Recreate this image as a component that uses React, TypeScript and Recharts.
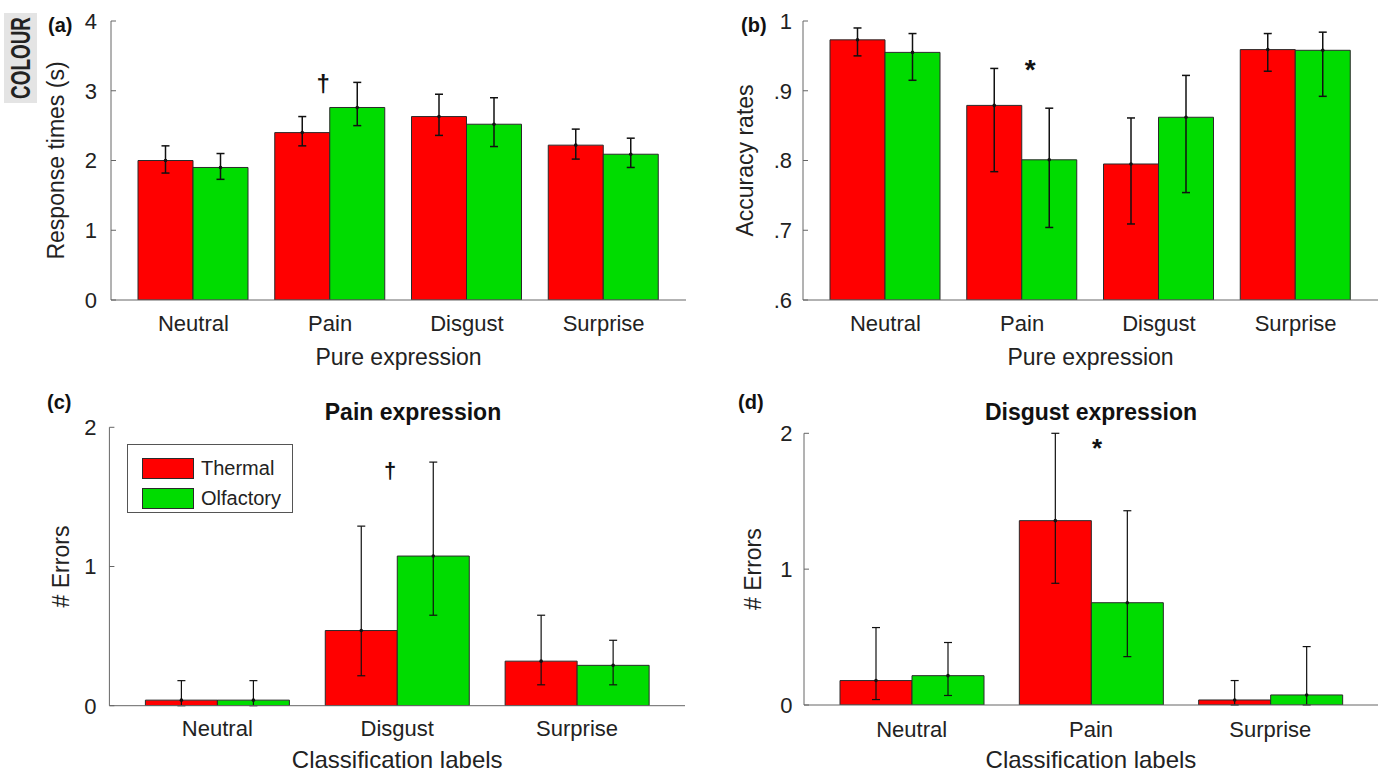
import React from 'react'
import { BarChart, Bar, XAxis, YAxis, ErrorBar, Legend, ReferenceDot } from 'recharts'

const RED = '#ff0000'
const GREEN = '#00dc00'
const EDGE = '#2a2a2a'
const AXIS = '#666'
const INK = '#222'
const FONT = "'Liberation Sans', Arial, sans-serif"

// (a) response times, (b) accuracy — pure expressions
const pureCats = ['Neutral', 'Pain', 'Disgust', 'Surprise']
const rtThermal = [2.0, 2.4, 2.63, 2.22]
const rtThermalLo = [1.82, 2.21, 2.36, 2.02]
const rtThermalHi = [2.21, 2.63, 2.95, 2.45]
const rtOlf = [1.9, 2.76, 2.52, 2.09]
const rtOlfLo = [1.73, 2.5, 2.2, 1.9]
const rtOlfHi = [2.1, 3.12, 2.9, 2.32]
const rtTicks = [0, 1, 2, 3, 4]

const accThermal = [0.973, 0.879, 0.795, 0.959]
const accThermalLo = [0.95, 0.784, 0.709, 0.928]
const accThermalHi = [0.99, 0.932, 0.861, 0.982]
const accOlf = [0.955, 0.801, 0.862, 0.958]
const accOlfLo = [0.915, 0.704, 0.754, 0.892]
const accOlfHi = [0.982, 0.875, 0.922, 0.984]
const accTicks = [0.6, 0.7, 0.8, 0.9, 1]

// (c) errors for pain expression, (d) errors for disgust expression
const painCats = ['Neutral', 'Disgust', 'Surprise']
const painThermal = [0.04, 0.54, 0.32]
const painThermalLo = [0, 0.215, 0.15]
const painThermalHi = [0.18, 1.29, 0.65]
const painOlf = [0.04, 1.075, 0.29]
const painOlfLo = [0, 0.65, 0.15]
const painOlfHi = [0.18, 1.75, 0.47]

const disgCats = ['Neutral', 'Pain', 'Surprise']
const disgThermal = [0.18, 1.357, 0.037]
const disgThermalLo = [0.04, 0.896, 0]
const disgThermalHi = [0.57, 2.0, 0.18]
const disgOlf = [0.216, 0.753, 0.074]
const disgOlfLo = [0.07, 0.356, 0]
const disgOlfHi = [0.46, 1.43, 0.43]
const errTicks = [0, 1, 2]

const seriesNames = ['Thermal', 'Olfactory']

function buildRows(cats: string[], t: number[], tLo: number[], tHi: number[], o: number[], oLo: number[], oHi: number[]) {
  return cats.map((name, i) => ({
    name,
    thermal: t[i],
    olfactory: o[i],
    thermalErr: [t[i] - tLo[i], tHi[i] - t[i]],
    olfactoryErr: [o[i] - oLo[i], oHi[i] - o[i]],
  }))
}

const accFmt = (v: number) => (v === 1 ? '1' : String(v).replace(/^0/, ''))

function MarkLabel(props: any) {
  const { viewBox, text, dx, size } = props
  if (!viewBox) return null
  return (
    <text x={viewBox.x + dx} y={viewBox.y} textAnchor="middle" fontSize={size} fontWeight="bold" fontFamily={FONT} fill="#111">
      {text}
    </text>
  )
}

// small dot at the mean, like the original error bars
function MeanDot(props: any) {
  const { x, y, width } = props
  if (x == null || y == null) return null
  return <circle cx={x + width / 2} cy={y} r={1.8} fill="#111" />
}

function LegendBox(props: any) {
  const items = [...(props.payload || [])].sort(
    (a: any, b: any) => seriesNames.indexOf(a.value) - seriesNames.indexOf(b.value)
  )
  return (
    <div
      style={{
        border: '1px solid #555', background: '#fff', width: 166, height: 69, boxSizing: 'border-box',
        padding: '9px 0 0 14px', fontFamily: FONT,
      }}
    >
      {items.map((item: any) => (
        <div key={item.value} style={{ display: 'flex', alignItems: 'center', height: 29.5 }}>
          <div style={{ flexShrink: 0, width: 52, height: 21, boxSizing: 'border-box', background: item.color, border: `1px solid ${EDGE}`, marginRight: 7 }} />
          <span style={{ fontSize: 20, color: INK, whiteSpace: 'nowrap' }}>{item.value}</span>
        </div>
      ))}
    </div>
  )
}

interface PanelProps {
  left: number
  top: number
  width: number
  height: number
  data: any[]
  plotTop: number
  marginRight: number
  yAxisWidth: number
  xAxisHeight: number
  pad: number
  barSize: number
  domain: [number, number]
  ticks: number[]
  fmt?: (v: number) => string
  xTickMargin: number
  yTickMargin: number
  xLabel: string
  xLabelOffset: number
  xLabelFont: number
  yLabel: string
  yLabelOffset: number
  yLabelFont: number
  errWidth: number
  mark: { cat: string; value: number; text: string; dx: number; size: number }
  legend?: { x: number; y: number }
}

function Panel(p: PanelProps) {
  return (
    <div style={{ position: 'absolute', left: p.left, top: p.top, fontFamily: FONT }}>
      <BarChart
        width={p.width}
        height={p.height}
        data={p.data}
        margin={{ top: p.plotTop, right: p.marginRight, left: 0, bottom: 0 }}
        barGap={0}
        barSize={p.barSize}
      >
        <XAxis
          dataKey="name"
          height={p.xAxisHeight}
          padding={{ left: p.pad, right: p.pad }}
          axisLine={{ stroke: AXIS }}
          tickLine={false}
          tickSize={0}
          tickMargin={p.xTickMargin}
          interval={0}
          tick={{ fontSize: 22, fill: INK, fontFamily: FONT }}
          label={{ value: p.xLabel, position: 'insideBottom', offset: p.xLabelOffset, style: { fontSize: p.xLabelFont, fill: INK, fontFamily: FONT } }}
        />
        <YAxis
          width={p.yAxisWidth}
          domain={p.domain}
          ticks={p.ticks}
          allowDataOverflow
          tickFormatter={p.fmt}
          axisLine={{ stroke: AXIS }}
          tickLine={{ stroke: AXIS }}
          tickSize={-5}
          tickMargin={p.yTickMargin}
          tick={{ fontSize: 22, fill: INK, fontFamily: FONT }}
          label={{
            value: p.yLabel,
            angle: -90,
            position: 'insideLeft',
            offset: p.yLabelOffset,
            style: { textAnchor: 'middle', fontSize: p.yLabelFont, fill: INK, fontFamily: FONT },
          }}
        />
        <Bar dataKey="thermal" name="Thermal" fill={RED} stroke={EDGE} strokeWidth={1} isAnimationActive={false} label={<MeanDot />}>
          <ErrorBar dataKey="thermalErr" width={4} stroke="#111" strokeWidth={p.errWidth} isAnimationActive={false} />
        </Bar>
        <Bar dataKey="olfactory" name="Olfactory" fill={GREEN} stroke={EDGE} strokeWidth={1} isAnimationActive={false} label={<MeanDot />}>
          <ErrorBar dataKey="olfactoryErr" width={4} stroke="#111" strokeWidth={p.errWidth} isAnimationActive={false} />
        </Bar>
        {p.legend && (
          <Legend
            layout="vertical"
            align="center"
            verticalAlign="middle"
            wrapperStyle={{ left: p.legend.x, top: p.legend.y, width: 'auto' }}
            content={<LegendBox />}
          />
        )}
        <ReferenceDot
          x={p.mark.cat}
          y={p.mark.value}
          r={0}
          fill="none"
          stroke="none"
          label={<MarkLabel text={p.mark.text} dx={p.mark.dx} size={p.mark.size} />}
        />
      </BarChart>
    </div>
  )
}

export default function App() {
  const rtRows = buildRows(pureCats, rtThermal, rtThermalLo, rtThermalHi, rtOlf, rtOlfLo, rtOlfHi)
  const accRows = buildRows(pureCats, accThermal, accThermalLo, accThermalHi, accOlf, accOlfLo, accOlfHi)
  const painRows = buildRows(painCats, painThermal, painThermalLo, painThermalHi, painOlf, painOlfLo, painOlfHi)
  const disgRows = buildRows(disgCats, disgThermal, disgThermalLo, disgThermalHi, disgOlf, disgOlfLo, disgOlfHi)

  return (
    <div style={{ position: 'absolute', left: 0, top: 0, width: 1382, height: 772, background: '#fff', overflow: 'hidden' }}>
      <Panel
        left={0} top={0} width={700} height={385} data={rtRows}
        plotTop={21} marginRight={14} yAxisWidth={111} xAxisHeight={85} pad={14} barSize={55}
        domain={[0, 4]} ticks={rtTicks}
        xTickMargin={15} yTickMargin={19}
        xLabel="Pure expression" xLabelOffset={20} xLabelFont={23}
        yLabel="Response times (s)" yLabelOffset={56} yLabelFont={23}
        errWidth={1.5}
        mark={{ cat: 'Pain', value: 2.98, text: '†', dx: -7, size: 24 }}
      />
      <Panel
        left={690} top={0} width={692} height={385} data={accRows}
        plotTop={21} marginRight={4} yAxisWidth={113} xAxisHeight={85} pad={14} barSize={55}
        domain={[0.6, 1]} ticks={accTicks} fmt={accFmt}
        xTickMargin={15} yTickMargin={16}
        xLabel="Pure expression" xLabelOffset={20} xLabelFont={23}
        yLabel="Accuracy rates" yLabelOffset={55} yLabelFont={23}
        errWidth={1.5}
        mark={{ cat: 'Pain', value: 0.917, text: '*', dx: 8, size: 28 }}
      />
      <Panel
        left={0} top={390} width={700} height={382} data={painRows}
        plotTop={37.3} marginRight={15} yAxisWidth={109.4} xAxisHeight={66.3} pad={18} barSize={72}
        domain={[0, 2]} ticks={errTicks}
        xTickMargin={15} yTickMargin={18}
        xLabel="Classification labels" xLabelOffset={4} xLabelFont={24}
        yLabel="# Errors" yLabelOffset={61} yLabelFont={23}
        errWidth={1.2}
        mark={{ cat: 'Disgust', value: 1.636, text: '†', dx: -7, size: 22 }}
        legend={{ x: 127, y: 54 }}
      />
      <Panel
        left={690} top={390} width={692} height={382} data={disgRows}
        plotTop={43.3} marginRight={4} yAxisWidth={114} xAxisHeight={67} pad={18} barSize={72}
        domain={[0, 2]} ticks={errTicks}
        xTickMargin={16} yTickMargin={16.5}
        xLabel="Classification labels" xLabelOffset={4} xLabelFont={24}
        yLabel="# Errors" yLabelOffset={63} yLabelFont={23}
        errWidth={1.2}
        mark={{ cat: 'Pain', value: 1.826, text: '*', dx: 6, size: 26 }}
      />

      <svg width={1382} height={772} style={{ position: 'absolute', left: 0, top: 0, pointerEvents: 'none' }}>
        <rect x={4} y={13} width={33} height={90} fill="#e4e4e4" />
        <text
          transform="translate(20.5 58) rotate(-90) scale(0.7 1)"
          textAnchor="middle"
          dy="0.36em"
          fontSize={27}
          fontWeight="bold"
          fontFamily={FONT}
          fill="#222"
        >
          COLOUR
        </text>
        <text x={48} y={32} fontSize={20} fontWeight="bold" fontFamily={FONT} fill="#111">(a)</text>
        <text x={741} y={32} fontSize={20} fontWeight="bold" fontFamily={FONT} fill="#111">(b)</text>
        <text x={47} y={409} fontSize={20} fontWeight="bold" fontFamily={FONT} fill="#111">(c)</text>
        <text x={738} y={409} fontSize={20} fontWeight="bold" fontFamily={FONT} fill="#111">(d)</text>
        <text x={413} y={420} textAnchor="middle" fontSize={23} fontWeight="bold" fontFamily={FONT} fill="#111">Pain expression</text>
        <text x={1091} y={420} textAnchor="middle" fontSize={23} fontWeight="bold" fontFamily={FONT} fill="#111">Disgust expression</text>
      </svg>
    </div>
  )
}
